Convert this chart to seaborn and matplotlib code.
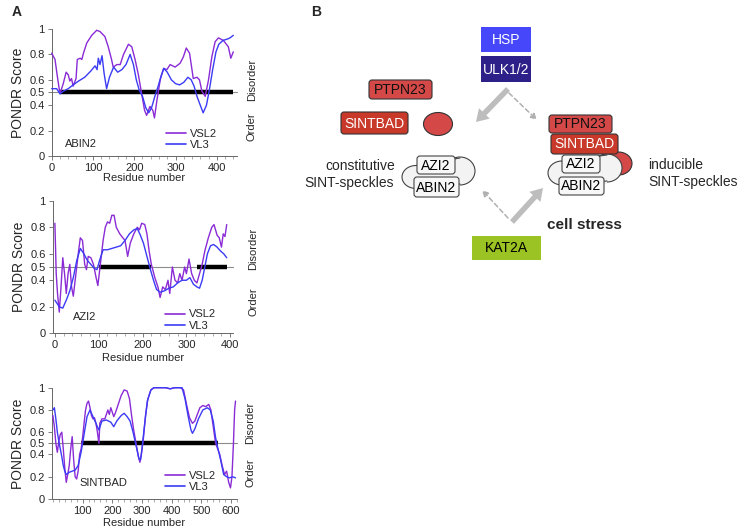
import numpy as np
import pandas as pd
import matplotlib
matplotlib.use("Agg")
import matplotlib.pyplot as plt
import seaborn as sns
from matplotlib.patches import FancyBboxPatch, Ellipse, Rectangle, FancyArrow

# ---------------- data ----------------
abin2_vsl2_x = [0, 8, 14, 20, 28, 35, 40, 44, 48, 52, 59, 62, 69, 73, 77, 85, 97, 109, 117, 129, 137, 145, 149, 158, 166, 174, 186, 194, 202, 210, 218, 225, 230, 238, 245, 249, 255, 263, 271, 279, 287, 299, 311, 319, 326, 334, 339, 343, 352, 358, 364, 372, 380, 388, 396, 404, 416, 428, 434, 440]
abin2_vsl2_y = [0.81, 0.76, 0.62, 0.49, 0.57, 0.66, 0.64, 0.59, 0.61, 0.55, 0.61, 0.76, 0.77, 0.76, 0.81, 0.89, 0.95, 0.99, 0.98, 0.94, 0.86, 0.76, 0.70, 0.72, 0.72, 0.80, 0.88, 0.86, 0.76, 0.64, 0.49, 0.36, 0.32, 0.39, 0.36, 0.30, 0.44, 0.60, 0.69, 0.68, 0.72, 0.70, 0.73, 0.78, 0.85, 0.81, 0.70, 0.61, 0.62, 0.60, 0.51, 0.47, 0.60, 0.78, 0.90, 0.93, 0.91, 0.86, 0.77, 0.82]
abin2_vl3_x = [0, 12, 20, 28, 40, 52, 65, 80, 95, 105, 110, 113, 117, 122, 127, 133, 140, 150, 160, 170, 180, 190, 198, 205, 212, 220, 228, 235, 242, 250, 258, 265, 272, 280, 290, 300, 310, 320, 330, 338, 345, 352, 360, 367, 375, 382, 390, 398, 405, 415, 425, 432, 440]
abin2_vl3_y = [0.53, 0.53, 0.49, 0.51, 0.53, 0.56, 0.59, 0.62, 0.67, 0.71, 0.68, 0.77, 0.72, 0.79, 0.65, 0.53, 0.62, 0.70, 0.66, 0.68, 0.72, 0.80, 0.72, 0.60, 0.52, 0.47, 0.38, 0.34, 0.38, 0.47, 0.55, 0.63, 0.69, 0.66, 0.60, 0.57, 0.56, 0.58, 0.62, 0.60, 0.55, 0.47, 0.40, 0.34, 0.40, 0.52, 0.68, 0.82, 0.88, 0.91, 0.92, 0.93, 0.95]
abin2_disorder = [(20, 440)]

azi2_vsl2_x = [0, 3, 6, 10, 14, 18, 22, 26, 30, 34, 38, 42, 48, 54, 58, 63, 68, 72, 76, 82, 88, 94, 98, 103, 110, 115, 120, 125, 130, 135, 140, 148, 155, 160, 166, 172, 180, 188, 193, 198, 205, 210, 215, 220, 228, 235, 240, 246, 252, 258, 262, 268, 274, 280, 285, 290, 296, 300, 306, 312, 318, 324, 330, 336, 342, 350, 358, 363, 370, 375, 380, 384, 388, 392]
azi2_vsl2_y = [0.83, 0.45, 0.30, 0.16, 0.35, 0.57, 0.45, 0.30, 0.45, 0.52, 0.35, 0.28, 0.45, 0.62, 0.72, 0.70, 0.52, 0.48, 0.58, 0.57, 0.52, 0.42, 0.36, 0.50, 0.70, 0.80, 0.84, 0.83, 0.89, 0.89, 0.80, 0.75, 0.72, 0.70, 0.58, 0.68, 0.75, 0.80, 0.78, 0.83, 0.82, 0.75, 0.62, 0.52, 0.42, 0.35, 0.27, 0.35, 0.33, 0.40, 0.30, 0.50, 0.40, 0.38, 0.45, 0.40, 0.50, 0.45, 0.56, 0.45, 0.40, 0.38, 0.45, 0.52, 0.62, 0.72, 0.80, 0.82, 0.74, 0.72, 0.65, 0.75, 0.73, 0.82]
azi2_vl3_x = [0, 10, 18, 26, 34, 42, 50, 58, 66, 74, 82, 90, 96, 102, 110, 120, 130, 140, 150, 160, 170, 180, 188, 195, 202, 210, 218, 225, 232, 240, 250, 260, 270, 280, 290, 300, 308, 316, 324, 330, 336, 342, 348, 355, 362, 370, 378, 385, 392]
azi2_vl3_y = [0.25, 0.20, 0.19, 0.25, 0.32, 0.42, 0.55, 0.64, 0.60, 0.55, 0.52, 0.49, 0.48, 0.55, 0.63, 0.63, 0.64, 0.65, 0.66, 0.70, 0.75, 0.78, 0.79, 0.74, 0.68, 0.58, 0.48, 0.40, 0.33, 0.31, 0.32, 0.34, 0.35, 0.38, 0.40, 0.40, 0.42, 0.37, 0.35, 0.34, 0.40, 0.50, 0.60, 0.66, 0.67, 0.65, 0.62, 0.60, 0.57]
azi2_disorder = [(100, 220), (325, 392)]

sint_vsl2_x = [0, 5, 10, 15, 20, 25, 30, 35, 40, 45, 50, 55, 60, 65, 70, 75, 80, 85, 90, 95, 100, 105, 110, 115, 120, 125, 130, 135, 140, 145, 150, 155, 158, 165, 175, 185, 190, 195, 200, 205, 210, 220, 230, 240, 250, 258, 265, 272, 280, 288, 293, 298, 305, 312, 320, 330, 340, 360, 380, 395, 410, 430, 440, 450, 460, 470, 478, 485, 495, 505, 515, 525, 532, 540, 548, 555, 562, 570, 578, 585, 592, 598, 603, 608, 612, 615]
sint_vsl2_y = [0.75, 0.65, 0.50, 0.42, 0.52, 0.58, 0.60, 0.45, 0.28, 0.15, 0.22, 0.30, 0.45, 0.56, 0.35, 0.20, 0.18, 0.25, 0.40, 0.45, 0.55, 0.68, 0.80, 0.86, 0.88, 0.82, 0.75, 0.72, 0.73, 0.68, 0.60, 0.50, 0.68, 0.72, 0.72, 0.80, 0.76, 0.82, 0.78, 0.74, 0.77, 0.85, 0.93, 0.98, 0.97, 0.90, 0.75, 0.62, 0.50, 0.38, 0.33, 0.40, 0.55, 0.75, 0.90, 0.98, 1.0, 1.0, 1.0, 0.99, 1.0, 1.0, 0.98, 0.85, 0.73, 0.68, 0.70, 0.75, 0.82, 0.84, 0.83, 0.85, 0.80, 0.65, 0.50, 0.45, 0.40, 0.30, 0.22, 0.25, 0.15, 0.10, 0.20, 0.50, 0.80, 0.88]
sint_vl3_x = [0, 5, 10, 15, 20, 25, 30, 35, 40, 45, 55, 65, 75, 85, 95, 105, 115, 125, 135, 145, 155, 165, 180, 195, 205, 215, 230, 240, 250, 260, 270, 280, 290, 295, 300, 308, 318, 330, 340, 380, 395, 410, 435, 445, 455, 465, 470, 478, 490, 505, 520, 530, 540, 548, 556, 565, 575, 585, 595, 605, 615]
sint_vl3_y = [0.80, 0.82, 0.72, 0.60, 0.52, 0.45, 0.38, 0.30, 0.25, 0.22, 0.24, 0.25, 0.26, 0.30, 0.42, 0.58, 0.74, 0.80, 0.74, 0.68, 0.62, 0.70, 0.71, 0.69, 0.65, 0.70, 0.75, 0.77, 0.74, 0.70, 0.60, 0.48, 0.36, 0.35, 0.45, 0.65, 0.88, 0.98, 1.0, 1.0, 0.99, 1.0, 1.0, 0.90, 0.75, 0.62, 0.59, 0.63, 0.72, 0.80, 0.82, 0.80, 0.70, 0.55, 0.45, 0.35, 0.22, 0.20, 0.19, 0.20, 0.19]
sint_disorder = [(95, 555)]

proteins = ["ABIN2", "AZI2", "SINTBAD"]
methods = ["VSL2", "VL3"]
y_ticks = [0, 0.2, 0.4, 0.5, 0.6, 0.8, 1.0]
y_ticklabels = ["0", "0.2", "0.4", "0.5", "0.6", "0.8", "1"]
x_ticks = {"ABIN2": [0, 100, 200, 300, 400], "AZI2": [0, 100, 200, 300, 400],
           "SINTBAD": [100, 200, 300, 400, 500, 600]}

series = {
    "ABIN2": [(abin2_vsl2_x, abin2_vsl2_y), (abin2_vl3_x, abin2_vl3_y)],
    "AZI2": [(azi2_vsl2_x, azi2_vsl2_y), (azi2_vl3_x, azi2_vl3_y)],
    "SINTBAD": [(sint_vsl2_x, sint_vsl2_y), (sint_vl3_x, sint_vl3_y)],
}
disorder = {"ABIN2": abin2_disorder, "AZI2": azi2_disorder, "SINTBAD": sint_disorder}

# ---------------- style ----------------
sns.set_theme(style="ticks")
plt.rcParams["font.family"] = ["Liberation Sans", "DejaVu Sans"]
palette = {"VSL2": "#8A2BD6", "VL3": "#3B3BF5"}

W, H = 738, 532
fig = plt.figure(figsize=(W / 100, H / 100), dpi=100)

# overlay for free text & diagram in pixel coords
ov = fig.add_axes([0, 0, 1, 1])
ov.set_xlim(0, W)
ov.set_ylim(H, 0)
ov.axis("off")
ov.patch.set_visible(False)

# axes boxes in pixels: (left, right, top(y=1), bottom(y=0)), xlim
layout = {
    "ABIN2": ((51.7, 237, 29, 156), (0, 449)),
    "AZI2": ((52.7, 233.3, 200.7, 333.3), (-5, 407)),
    "SINTBAD": ((51.7, 237.3, 387.7, 499), (-4, 621)),
}
label_pos = {"ABIN2": (0.07, 0.094), "AZI2": (0.112, 0.123), "SINTBAD": (0.152, 0.144)}
legend_anchor = {"ABIN2": (0.615, 0.215), "AZI2": (0.62, 0.18), "SINTBAD": (0.61, 0.255)}
side_pos = {"ABIN2": (1.08, 0.60, 0.23), "AZI2": (1.11, 0.636, 0.236), "SINTBAD": (1.07, 0.68, 0.234)}
xlabel_y = {"ABIN2": 178, "AZI2": 358, "SINTBAD": 523}

for p in proteins:
    (l, r, t, b), xl = layout[p]
    ax = fig.add_axes([l / W, 1 - b / H, (r - l) / W, (b - t) / H])
    rows = []
    for m, (xs, ys) in zip(methods, series[p]):
        rows.append(pd.DataFrame({"Residue": xs, "Score": ys, "Method": m}))
    df = pd.concat(rows, ignore_index=True)
    ax.axhline(0.5, color="#8c8c8c", lw=0.8, zorder=1)
    for (a, bb) in disorder[p]:
        ax.plot([a, bb], [0.5, 0.5], color="black", lw=3.2, solid_capstyle="butt", zorder=2)
    sns.lineplot(data=df, x="Residue", y="Score", hue="Method", palette=palette,
                 hue_order=methods, ax=ax, lw=1.0, estimator=None, sort=False,
                 legend=True, zorder=3)
    for ln in ax.lines:
        ln.set_clip_on(False)
    ax.set_xlim(*xl)
    ax.set_ylim(0, 1)
    ax.set_yticks(y_ticks)
    ax.set_yticklabels(y_ticklabels)
    ax.set_xticks(x_ticks[p])
    ax.set_xticks(np.arange(0, xl[1], 20), minor=True)
    ax.tick_params(axis="both", labelsize=8, length=3, width=0.6, color="#666666", pad=2)
    ax.tick_params(axis="x", which="minor", length=2, width=0.5, color="#888888")
    for s in ["top", "right"]:
        ax.spines[s].set_visible(False)
    for s in ["left", "bottom"]:
        ax.spines[s].set_color("#666666")
        ax.spines[s].set_linewidth(0.7)
    ax.set_xlabel("")
    ax.set_ylabel("PONDR Score", fontsize=10, labelpad=3)
    ax.patch.set_visible(False)
    ax.text(*label_pos[p], p, transform=ax.transAxes, fontsize=8, va="center", ha="left")
    leg = ax.legend(loc="upper left", bbox_to_anchor=legend_anchor[p], frameon=False,
                    fontsize=8, handlelength=1.8, handletextpad=0.4, labelspacing=0.1,
                    borderpad=0, borderaxespad=0, title=None)
    for h in leg.get_lines():
        h.set_linewidth(1.2)
    sx, dy, oy = side_pos[p]
    ax.text(sx, dy, "Disorder", transform=ax.transAxes, rotation=90, fontsize=8,
            ha="center", va="center")
    ax.text(sx, oy, "Order", transform=ax.transAxes, rotation=90, fontsize=8,
            ha="center", va="center")
    ov.text((l + r) / 2, xlabel_y[p], "Residue number", fontsize=8, ha="center", va="center")

# panel letters
ov.text(12, 12, "A", fontsize=10, fontweight="bold", ha="left", va="center")
ov.text(311, 12, "B", fontsize=10, fontweight="bold", ha="left", va="center")

# ---------------- diagram (panel B) ----------------
def box(x0, x1, y0, y1, fc, text, tc, ec="none", round_=False, fs=10, z=5):
    if round_:
        pt = FancyBboxPatch((x0, y0), x1 - x0, y1 - y0,
                            boxstyle="round,pad=0,rounding_size=3",
                            fc=fc, ec=ec, lw=0.8, zorder=z)
    else:
        pt = Rectangle((x0, y0), x1 - x0, y1 - y0, fc=fc, ec=ec, lw=0.8, zorder=z)
    ov.add_patch(pt)
    ov.text((x0 + x1) / 2, (y0 + y1) / 2 + 0.5, text, color=tc, fontsize=fs,
            ha="center", va="center", zorder=z + 1)

def cloud(left_c, right_c, z=3):
    (lx, ly, lw_, lh), (rx, ry, rw, rh) = left_c, right_c
    for cx, cy, w, h in [left_c, right_c]:
        ov.add_patch(Ellipse((cx, cy), w, h, fc="#f3f3f3", ec="#444444", lw=0.8, zorder=z))
    ov.add_patch(Rectangle((lx, ly - lh / 2 + 1.5), rx - lx, lh - 3, fc="#f3f3f3", ec="none", zorder=z + 0.1))
    ov.plot([lx, rx], [ly - lh / 2, ry - rh / 2 + 1], color="#444444", lw=0.8, zorder=z + 0.2)
    ov.plot([lx, rx], [ly + lh / 2, ry + rh / 2 - 1], color="#444444", lw=0.8, zorder=z + 0.2)

box(481, 531, 27, 52, "#4646FA", "HSP", "white")
box(481, 531, 56, 82, "#2D2088", "ULK1/2", "white")
box(472, 541, 236, 260, "#9BC324", "KAT2A", "black")

# left (constitutive)
box(369, 432, 80, 99, "#D44848", "PTPN23", "#111111", ec="#333333", round_=True)
box(341, 408, 112, 134, "#C9392A", "SINTBAD", "white", ec="#333333", round_=True)
ov.add_patch(Ellipse((438, 124), 29, 23, fc="#D44848", ec="#333333", lw=0.8, zorder=5))
cloud((416, 177, 28, 23), (460, 171, 30, 28))
box(417, 455, 156, 174, "#f7f7f7", "AZI2", "black", ec="#444444", round_=True, z=6)
box(414, 459, 177, 197, "#f7f7f7", "ABIN2", "black", ec="#444444", round_=True, z=6)
ov.text(395, 166, "constitutive", fontsize=10, ha="right", va="center")
ov.text(394, 183, "SINT-speckles", fontsize=10, ha="right", va="center")

# right (inducible)
ov.add_patch(Ellipse((618.5, 163.5), 27, 23, fc="#D44848", ec="#333333", lw=0.8, zorder=2))
cloud((562, 173, 28, 24), (607, 168, 30, 28))
box(562, 600, 155, 173, "#f7f7f7", "AZI2", "black", ec="#444444", round_=True, z=6)
box(559, 604, 177, 195, "#f7f7f7", "ABIN2", "black", ec="#444444", round_=True, z=6)
box(551, 618, 134, 154, "#C9392A", "SINTBAD", "white", ec="#333333", round_=True, z=8)
box(549, 612, 115, 133, "#D44848", "PTPN23", "#111111", ec="#333333", round_=True, z=8)
ov.text(648, 165, "inducible", fontsize=10, ha="left", va="center")
ov.text(648, 182, "SINT-speckles", fontsize=10, ha="left", va="center")
ov.text(547, 225, "cell stress", fontsize=11, fontweight="bold", ha="left", va="center")

# arrows
def thick(x0, y0, x1, y1):
    ov.add_patch(FancyArrow(x0, y0, x1 - x0, y1 - y0, width=5.5, head_width=15,
                            head_length=12, length_includes_head=True,
                            fc="#BDBDBD", ec="none", zorder=4))

def dashed(x0, y0, x1, y1):
    ov.annotate("", xy=(x1, y1), xytext=(x0, y0),
                arrowprops=dict(arrowstyle="-|>", color="#B0B0B0", lw=1.1,
                                linestyle=(0, (3, 2)), mutation_scale=9,
                                shrinkA=0, shrinkB=0), zorder=4)

thick(508, 89, 476, 122)
dashed(509, 93, 537, 120)
thick(512, 222, 543, 188)
dashed(508, 218, 482, 190)

fig.savefig("out.png", dpi=100)
